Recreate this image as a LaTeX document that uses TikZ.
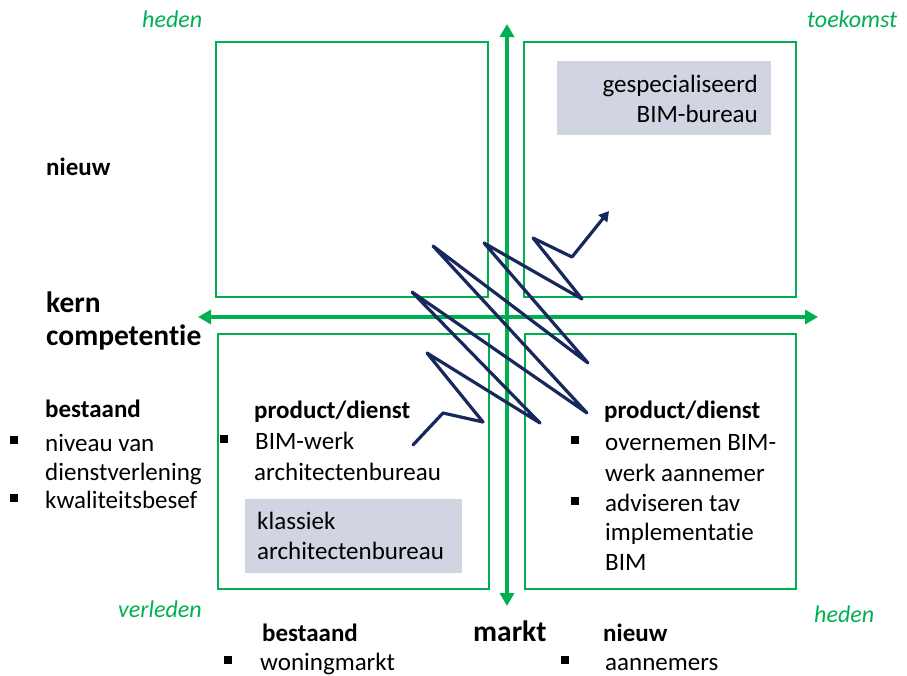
\documentclass[tikz,border=0pt]{standalone}
\usepackage{fontspec}
\setmainfont{Carlito}[Ligatures=NoCommon]
\usetikzlibrary{arrows.meta}
\definecolor{kgreen}{RGB}{0,176,80}
\definecolor{knavy}{RGB}{24,40,92}
\definecolor{kgray}{RGB}{208,213,225}
\tikzset{
  quad/.style={draw=kgreen, line width=2pt},
  axis/.style={draw=kgreen, line width=4.5pt,
    {Triangle[width=14pt,length=13pt]}-{Triangle[width=14pt,length=13pt]}},
  zig/.style={draw=knavy, line width=3.2pt, line join=round, line cap=round,
    -{Triangle[width=11pt,length=10pt]}},
  tag/.style={fill=kgray},
  txt/.style={anchor=base west, inner sep=0pt, font=\fontsize{25}{30}\selectfont},
  txtr/.style={txt, anchor=base east},
  hd/.style={txt, font=\fontsize{25}{30}\selectfont\bfseries},
  big/.style={txt, font=\fontsize{29.5}{35}\selectfont\bfseries},
  tijd/.style={txt, text=kgreen, font=\fontsize{24}{29}\selectfont\itshape},
  blt/.style={fill=black, draw=none, minimum size=7.5pt, inner sep=0pt}
}
\begin{document}
\begin{tikzpicture}[x=1pt, y=-1pt]
\useasboundingbox (0,0) rectangle (907,675);

% quadrant frames
\draw[quad] (216,42) rectangle (488,297);
\draw[quad] (524,42) rectangle (796,297);
\draw[quad] (218,334) rectangle (489,589);
\draw[quad] (525,334) rectangle (796,589);

% axes
\coordinate (axW) at (198,317);
\coordinate (axE) at (818,317);
\coordinate (axN) at (507,24);
\coordinate (axS) at (507,606);
\draw[axis] (axW) -- (axE);
\draw[axis] (axN) -- (axS);

% grey labels
\fill[tag] (557,61) rectangle (771,135);
\fill[tag] (245,499) rectangle (462,573);
\node[txtr] (gsp) at (758,92) {gespecialiseerd};
\node[txtr] (gspb) at (758,122) {BIM-bureau};
\node[txt] (kls) at (257,529) {klassiek};
\node[txt] (klsb) at (257,559) {architectenbureau};

% time labels
\node[tijd] (t1) at (142,27) {heden};
\node[tijd] (t2) at (807,27) {toekomst};
\node[tijd] (t3) at (118,617) {verleden};
\node[tijd] (t4) at (814,622) {heden};

% vertical axis labels
\node[hd] (lnw) at (46,175) {nieuw};
\node[big] (kern) at (46,312) {kern};
\node[big] (comp) at (46,345) {competentie};
\node[hd] (lbs) at (45,417) {bestaand};
\node[blt] (b1) at (14,440) {};
\node[txt] (l1) at (45,451) {niveau van};
\node[txt] (l2) at (45,480) {dienstverlening};
\node[blt] (b2) at (14,498) {};
\node[txt] (l3) at (45,508) {kwaliteitsbesef};

% lower left quadrant
\node[hd] (pd1) at (254,418) {product/dienst};
\node[blt] (b3) at (224,439) {};
\node[txt] (p1) at (255,449) {BIM-werk};
\node[txt] (p2) at (254,480) {architectenbureau};

% lower right quadrant
\node[hd] (pd2) at (604,418) {product/dienst};
\node[blt] (b4) at (575,440) {};
\node[txt] (q1) at (605,450) {overnemen BIM-};
\node[txt] (q2) at (605,481) {werk aannemer};
\node[blt] (b5) at (575,501) {};
\node[txt] (q3) at (605,511) {adviseren tav};
\node[txt] (q4) at (605,540) {implementatie};
\node[txt] (q5) at (605,570) {BIM};

% horizontal axis labels
\node[hd] (mbs) at (262,641) {bestaand};
\node[blt] (b6) at (228,660) {};
\node[txt] (m1) at (260,670) {woningmarkt};
\node[big] (mkt) at (473,641) {markt};
\node[hd] (mnw) at (603,641) {nieuw};
\node[blt] (b7) at (565,660) {};
\node[txt] (m2) at (605,670) {aannemers};

% zig-zag growth path
\coordinate (z1) at (413,445);
\coordinate (z2) at (443,413);
\coordinate (z3) at (483,422);
\coordinate (z4) at (427,353);
\coordinate (z5) at (540,423);
\coordinate (z6) at (412,292);
\coordinate (z7) at (587,413);
\coordinate (z8) at (433,246);
\coordinate (z9) at (588,363);
\coordinate (z10) at (484,243);
\coordinate (z11) at (582,299);
\coordinate (z12) at (533,238);
\coordinate (z13) at (572,257);
\coordinate (z14) at (609,211);
\draw[zig] (z1) -- (z2) -- (z3) -- (z4) -- (z5) -- (z6) -- (z7) -- (z8)
  -- (z9) -- (z10) -- (z11) -- (z12) -- (z13) -- (z14);
\end{tikzpicture}
\end{document}
